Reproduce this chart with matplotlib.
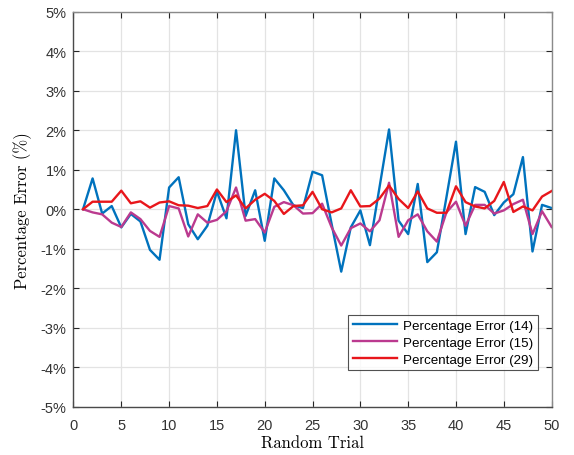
import matplotlib
matplotlib.use("Agg")
import matplotlib.pyplot as plt
import numpy as np

# datos
ensayos = np.arange(1, 51)

error_14 = [0.00, 0.78, -0.11, 0.08, -0.46, -0.12, -0.31, -1.03, -1.28, 0.55,
            0.81, -0.38, -0.76, -0.42, 0.45, -0.23, 2.00, -0.17, 0.48, -0.80,
            0.78, 0.48, 0.10, 0.03, 0.95, 0.86, -0.38, -1.58, -0.46, -0.03,
            -0.91, 0.55, 2.02, -0.29, -0.63, 0.64, -1.34, -1.09, 0.30, 1.71,
            -0.63, 0.56, 0.44, -0.15, 0.17, 0.38, 1.32, -1.07, 0.11, 0.03]

error_15 = [0.00, -0.08, -0.13, -0.34, -0.45, -0.08, -0.25, -0.55, -0.70, 0.08,
            0.02, -0.69, -0.13, -0.34, -0.27, -0.05, 0.55, -0.29, -0.25, -0.59,
            0.06, 0.18, 0.10, -0.11, -0.10, 0.14, -0.46, -0.92, -0.48, -0.36,
            -0.56, -0.28, 0.67, -0.70, -0.28, -0.13, -0.56, -0.82, -0.08, 0.19,
            -0.42, 0.11, 0.11, -0.11, -0.03, 0.13, 0.24, -0.63, -0.05, -0.45]

error_29 = [0.00, 0.19, 0.19, 0.19, 0.47, 0.15, 0.20, 0.04, 0.17, 0.20,
            0.10, 0.09, 0.03, 0.08, 0.50, 0.18, 0.35, 0.02, 0.24, 0.39,
            0.21, -0.12, 0.08, 0.10, 0.44, 0.00, -0.08, 0.02, 0.48, 0.07,
            0.08, 0.27, 0.60, 0.26, 0.03, 0.45, 0.02, -0.09, -0.09, 0.58,
            0.18, 0.07, 0.02, 0.21, 0.69, -0.07, 0.07, -0.03, 0.32, 0.46]

etiquetas = ["Percentage Error (14)", "Percentage Error (15)", "Percentage Error (29)"]
colores = ["#0072BD", "#BB3A8F", "#E8161B"]

yticks = np.arange(-5, 6)
ytick_labels = [f"{v}%" for v in yticks]
xticks = np.arange(0, 51, 5)

plt.rcParams['font.family'] = ['Liberation Sans', 'DejaVu Sans']

fig = plt.figure(figsize=(5.74, 4.56), dpi=100)
ax = fig.add_axes([0.128, 0.106, 0.833, 0.866])

for serie, etiqueta, color in zip([error_14, error_15, error_29], etiquetas, colores):
    ax.plot(ensayos, serie, color=color, lw=1.7, label=etiqueta)

ax.set_xlim(0, 50)
ax.set_ylim(-5, 5)
ax.set_xticks(xticks)
ax.set_yticks(yticks)
ax.set_yticklabels(ytick_labels)
ax.grid(True, color="#e3e3e3", lw=0.9)
ax.set_axisbelow(True)

ax.tick_params(direction="in", length=4, width=0.8, color="#262626",
               labelcolor="#333333", labelsize=10.5, top=True, right=True)
ax.tick_params(axis="x", pad=8)
ax.tick_params(axis="y", pad=5)
ax.spines["left"].set_color("#4a4a4a")
ax.spines["bottom"].set_color("#4a4a4a")
ax.spines["top"].set_color("#8a8a8a")
ax.spines["right"].set_color("#8a8a8a")
for lado in ax.spines.values():
    lado.set_linewidth(1.0)

ax.set_xlabel("Random Trial", family="cmr10", fontsize=12, labelpad=2)
ax.set_ylabel("Percentage Error (%)", family="cmr10", fontsize=12, labelpad=6)

leg = ax.legend(loc="lower right", bbox_to_anchor=(0.972, 0.092), fontsize=9.6,
                frameon=True, fancybox=False, edgecolor="#262626",
                handlelength=3.3, borderpad=0.35, labelspacing=0.35,
                handletextpad=0.5, borderaxespad=0)
leg.get_frame().set_linewidth(0.8)

fig.savefig("out.png", dpi=100)
